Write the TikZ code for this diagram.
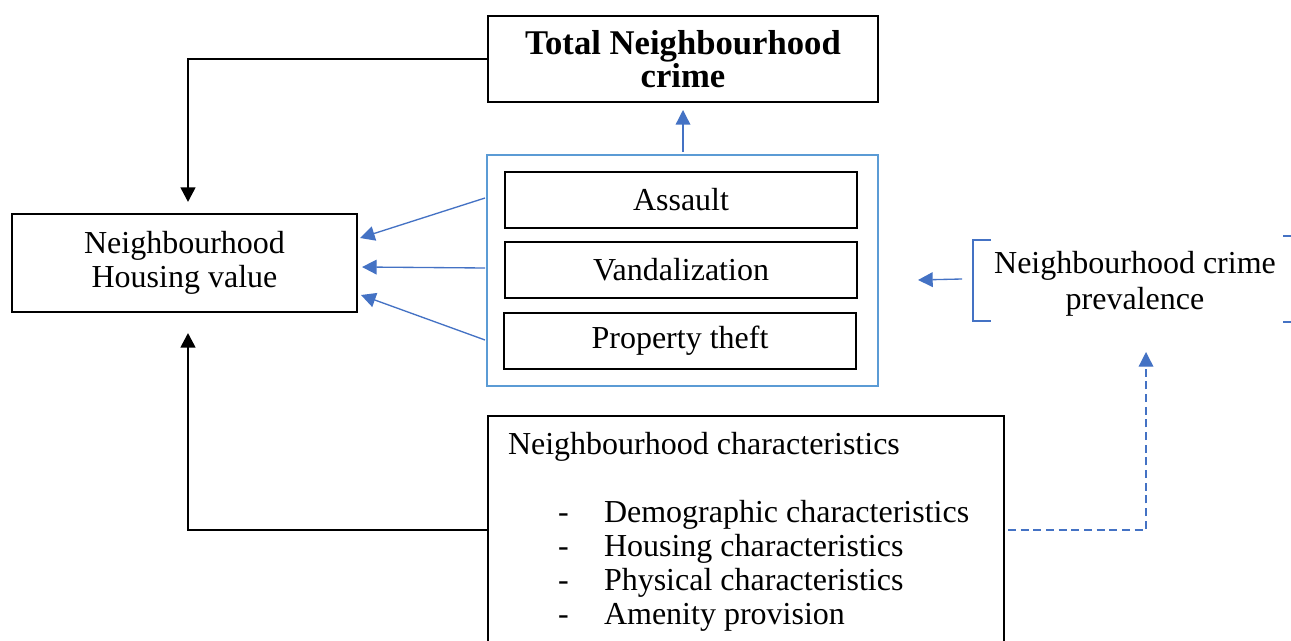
\documentclass[tikz,border=0pt]{standalone}
\usepackage{fontspec}
\setmainfont{Liberation Serif}
\usetikzlibrary{arrows.meta,calc}
\definecolor{oblue}{HTML}{4472C4}
\definecolor{lblue}{HTML}{5B9BD5}
\begin{document}
\begin{tikzpicture}[x=0.75pt,y=-0.75pt,
  every node/.style={font=\fontsize{24}{25}\selectfont, inner sep=0pt, outer sep=0pt},
  box/.style={draw=black, line width=1pt, align=center},
  bluearrow/.style={draw=oblue, line width=1pt, -{Triangle[length=11pt,width=11pt]}},
  blackarrow/.style={draw=black, line width=2pt, -{Triangle[length=11pt,width=11pt]}},
  plain/.style={anchor=base west}
]
\useasboundingbox (0,0) rectangle (1291,641);

% nodes
\node[box, minimum width=292.5pt, minimum height=64.5pt, font=\fontsize{26}{25}\selectfont\bfseries] (total) at (683,59) {Total Neighbourhood\\crime};
\node[draw=lblue, line width=1pt, minimum width=293.25pt, minimum height=173.25pt] (group) at (682.5,270.5) {};
\node[box, minimum width=264pt, minimum height=42pt] (assault) at (681,200) {Assault};
\node[box, minimum width=264pt, minimum height=42pt] (vand) at (681,270) {Vandalization};
\node[box, minimum width=264pt, minimum height=42pt] (theft) at (680,341) {Property theft};
\node[box, line width=1.8pt, minimum width=258.75pt, minimum height=73.5pt] (house) at (184.5,263) {Neighbourhood\\Housing value};
\node[align=center, font=\fontsize{24}{27}\selectfont] (prev) at (1135,284) {Neighbourhood crime\\prevalence};
\node[box, minimum width=387pt, minimum height=183pt] (chars) at (746,538) {};

% bottom box texts
\node[plain] (ct) at (508,454) {Neighbourhood characteristics};
\node[plain] (d1) at (558,522) {-};
\node[plain] (d2) at (558,556) {-};
\node[plain] (d3) at (558,590) {-};
\node[plain] (d4) at (558,624) {-};
\node[plain] (i1) at (604,522) {Demographic characteristics};
\node[plain] (i2) at (604,556) {Housing characteristics};
\node[plain] (i3) at (604,590) {Physical characteristics};
\node[plain] (i4) at (604,624) {Amenity provision};

% bracket around prevalence
\draw[oblue, line width=1pt] (991,240) -- (973,240) -- (973,321) -- (991,321);
\draw[oblue, line width=1pt] (1283,236) -- (1296,236) -- (1296,322) -- (1283,322);

% coordinates
\coordinate (totL) at ($(total.north west)+(0,43)$);
\coordinate (houseTop) at ($(house.north)+(3.5,-12)$);
\coordinate (charL) at ($(chars.north west)+(0,114)$);
\coordinate (houseBot) at ($(house.south)+(3.5,21)$);
\coordinate (g1) at ($(group.north west)+(-2,43)$);
\coordinate (g2) at ($(group.north west)+(-2,113)$);
\coordinate (g3) at ($(group.north west)+(-2,185)$);
\coordinate (h1) at ($(house.north east)+(3,24)$);
\coordinate (h2) at ($(house.east)+(5,4)$);
\coordinate (h3) at ($(house.south east)+(4,-17)$);
\coordinate (gTop) at ($(group.north)+(0.5,-3)$);
\coordinate (tBot) at ($(total.south)+(0,8)$);
\coordinate (pL) at (962,279);
\coordinate (pA) at (918,280);
\coordinate (cR) at ($(chars.north east)+(4,114)$);
\coordinate (pB) at (1146,352);

% connectors
\draw[blackarrow] (totL) -| (houseTop);
\draw[blackarrow] (charL) -| (houseBot);
\draw[bluearrow] (g1) -- (h1);
\draw[bluearrow] (g2) -- (h2);
\draw[bluearrow] (g3) -- (h3);
\draw[bluearrow] (gTop) -- (tBot);
\draw[bluearrow] (pL) -- (pA);
\draw[bluearrow, dash pattern=on 6pt off 3.5pt] (cR) -| (pB);
\end{tikzpicture}
\end{document}
